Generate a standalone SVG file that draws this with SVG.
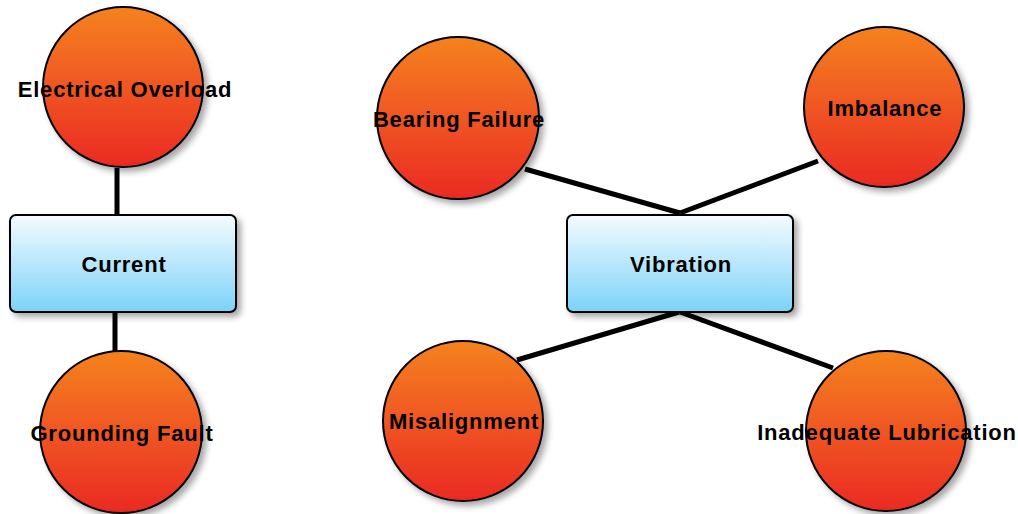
<svg xmlns="http://www.w3.org/2000/svg" width="1018" height="514" viewBox="0 0 1018 514">
<defs>
<linearGradient id="gOrange" x1="0" y1="0" x2="0" y2="1">
<stop offset="0" stop-color="#F5821F"/>
<stop offset="1" stop-color="#EA2A22"/>
</linearGradient>
<linearGradient id="gBlue" x1="0" y1="0" x2="0" y2="1">
<stop offset="0" stop-color="#F4FBFE"/>
<stop offset="1" stop-color="#7CD2F9"/>
</linearGradient>
<filter id="shadow" x="-20%" y="-20%" width="150%" height="150%">
<feDropShadow dx="4" dy="4" stdDeviation="3" flood-color="#000" flood-opacity="0.35"/>
</filter>
</defs>
<style>
.circ{fill:url(#gOrange);stroke:#000;stroke-width:2;filter:url(#shadow)}
.box{fill:url(#gBlue);stroke:#000;stroke-width:2;filter:url(#shadow)}
.lbl{font-family:"Liberation Sans",Arial,sans-serif;font-weight:bold;font-size:22px;letter-spacing:0.8px;fill:#000;text-anchor:middle}
.conn{stroke:#000;stroke-width:5;fill:none;stroke-linecap:butt}
</style>
<g id="connectors">
<line class="conn" x1="117" y1="168" x2="117" y2="215"/>
<line class="conn" x1="115" y1="312" x2="115" y2="352"/>
<line class="conn" x1="525" y1="169" x2="680" y2="213"/>
<line class="conn" x1="818" y1="161" x2="680" y2="213"/>
<line class="conn" x1="517" y1="360" x2="679" y2="312"/>
<line class="conn" x1="833" y1="368" x2="680" y2="312"/>
</g>
<g id="electrical-overload">
<circle class="circ" cx="123" cy="87" r="80"/>
<text class="lbl" x="125" y="97">Electrical Overload</text>
</g>
<g id="current">
<rect class="box" x="10" y="215" width="226" height="97" rx="6"/>
<text class="lbl" x="124" y="272">Current</text>
</g>
<g id="grounding-fault">
<circle class="circ" cx="121" cy="432" r="81"/>
<text class="lbl" x="122" y="441">Grounding Fault</text>
</g>
<g id="bearing-failure">
<circle class="circ" cx="458" cy="118" r="81"/>
<text class="lbl" x="459" y="127">Bearing Failure</text>
</g>
<g id="imbalance">
<circle class="circ" cx="884" cy="107" r="80"/>
<text class="lbl" x="885" y="116">Imbalance</text>
</g>
<g id="vibration">
<rect class="box" x="567" y="215" width="226" height="97" rx="6"/>
<text class="lbl" x="681" y="272">Vibration</text>
</g>
<g id="misalignment">
<circle class="circ" cx="463" cy="421" r="80"/>
<text class="lbl" x="464" y="429">Misalignment</text>
</g>
<g id="inadequate-lubrication">
<circle class="circ" cx="886" cy="431" r="80"/>
<text class="lbl" x="887" y="440">Inadequate Lubrication</text>
</g>
</svg>
